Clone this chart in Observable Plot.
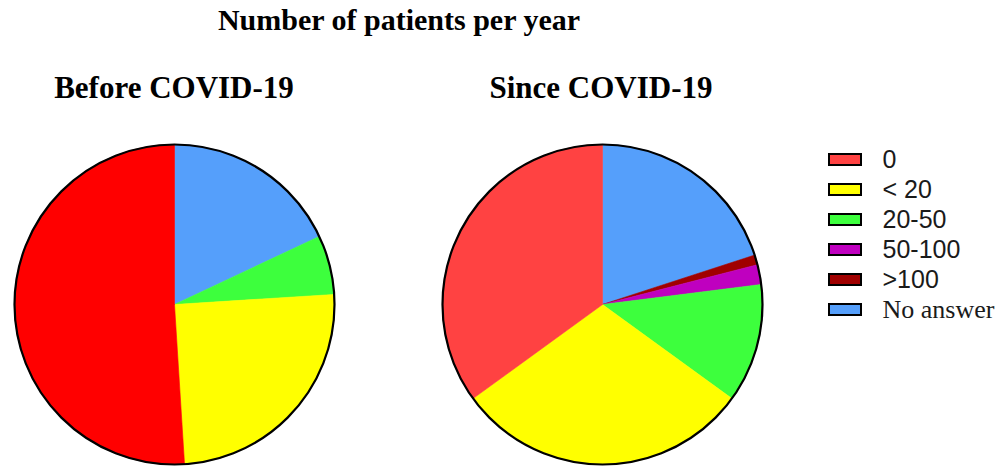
<!DOCTYPE html>
<html>
<head>
<meta charset="utf-8">
<script src="https://cdn.jsdelivr.net/npm/d3@7"></script>
<script src="https://cdn.jsdelivr.net/npm/@observablehq/plot@0.6"></script>
<style>
  html, body { margin: 0; padding: 0; background: #fff; }
  #root { position: relative; width: 1003px; height: 467px; overflow: hidden; background: #fff; }
  .ttl { position: absolute; font-family: "Liberation Serif", "Times New Roman", serif; font-weight: bold;
         font-size: 30px; line-height: 30px; text-align: center; color: #000; white-space: nowrap; }
  .sub { font-size: 31px; line-height: 31px; }
  .abs { position: absolute; }
  .abs svg { display: block; }
</style>
</head>
<body>
<div id="root"></div>
<script>
// ---- data ----
const categories = ["0", "< 20", "20-50", "50-100", ">100", "No answer"];
const beforeValues = [51, 25, 6, 0, 0, 18];
const sinceValues = [35, 30, 12, 2, 1, 20];
const beforeColors = ["#FF0000", "#FFFF00", "#3DFF3D", "#BF00BF", "#A00000", "#559FFB"];
const sinceColors  = ["#FF4242", "#FFFF00", "#3DFF3D", "#BF00BF", "#A00000", "#559FFB"];
const legendColors = sinceColors;
const mainTitle = "Number of patients per year";
const pieTitles = ["Before COVID-19", "Since COVID-19"];

const root = document.getElementById("root");

function addTitle(text, cx, top, extra) {
  const d = document.createElement("div");
  d.className = "ttl" + (extra ? " " + extra : "");
  d.textContent = text;
  d.style.left = (cx - 300) + "px";
  d.style.width = "600px";
  d.style.top = top + "px";
  root.appendChild(d);
}
addTitle(mainTitle, 399, 5);
addTitle(pieTitles[0], 174, 72, "sub");
addTitle(pieTitles[1], 601, 72, "sub");

// build slice polygons (clockwise from 12 o'clock, last category first)
function slices(values, colors) {
  const rows = categories.map((c, i) => ({cat: c, value: values[i], color: colors[i]})).reverse();
  const arcs = d3.pie().sort(null).value(d => d.value)(rows);
  const pts = [];
  for (const a of arcs) {
    if (a.data.value <= 0) continue;
    const n = Math.max(2, Math.ceil((a.endAngle - a.startAngle) / (Math.PI / 360)));
    pts.push({key: a.data.cat, color: a.data.color, x: 0, y: 0});
    for (let k = 0; k <= n; k++) {
      const t = a.startAngle + (a.endAngle - a.startAngle) * k / n;
      pts.push({key: a.data.cat, color: a.data.color, x: Math.sin(t), y: Math.cos(t)});
    }
    pts.push({key: a.data.cat, color: a.data.color, x: 0, y: 0});
  }
  return pts;
}

function pie(values, colors) {
  return Plot.plot({
    width: 324, height: 324, margin: 2,
    x: {domain: [-1, 1], axis: null},
    y: {domain: [-1, 1], axis: null},
    marks: [
      Plot.line(slices(values, colors), {x: "x", y: "y", z: "key", fill: "color", stroke: "color", strokeWidth: 0.6}),
      Plot.dot([{x: 0, y: 0}], {x: "x", y: "y", r: 160, fill: "none", stroke: "black", strokeWidth: 2.2})
    ]
  });
}

function place(el, left, top) {
  const w = document.createElement("div");
  w.className = "abs";
  w.style.left = left + "px";
  w.style.top = top + "px";
  w.appendChild(el);
  root.appendChild(w);
}

place(pie(beforeValues, beforeColors), 12, 142);
place(pie(sinceValues, sinceColors), 440, 142);

// legend
const legendData = categories.map((c, i) => ({label: c, color: legendColors[i]}));
const legend = Plot.plot({
  width: 183, height: 190,
  x: {domain: [0, 1], range: [9, 41], axis: null},
  y: {type: "band", domain: categories, range: [2.65, 186.85], paddingInner: 0.642, paddingOuter: 0.321, axis: null},
  marks: [
    Plot.barX(legendData, {x1: () => 0, x2: () => 1, y: "label", fill: "color", stroke: "black", strokeWidth: 2}),
    Plot.text(legendData.filter(d => d.label !== "No answer"), {x: () => 1, y: "label", text: "label", dx: 21,
      textAnchor: "start", fontSize: 25, fontFamily: "Liberation Sans, Arial, sans-serif", fill: "#1a1a1a"}),
    Plot.text(legendData.filter(d => d.label === "No answer"), {x: () => 1, y: "label", text: "label", dx: 21,
      textAnchor: "start", fontSize: 26, fontFamily: "Liberation Serif, Times New Roman, serif", fill: "#1a1a1a"})
  ]
});
place(legend, 820, 140);
</script>
</body>
</html>
